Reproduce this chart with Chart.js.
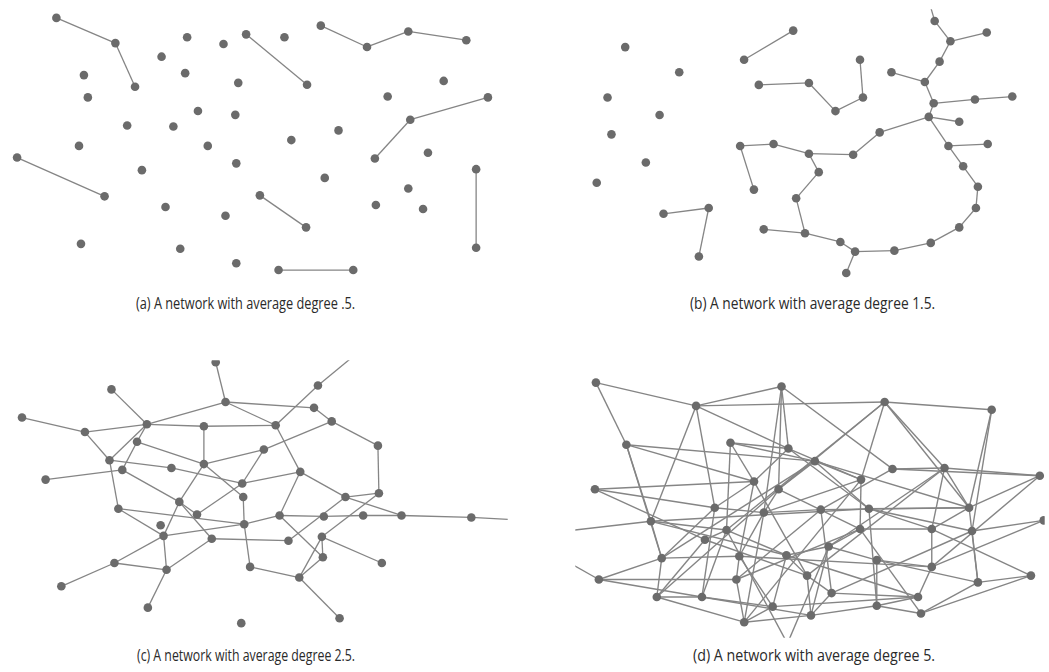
<!DOCTYPE html>
<html>
<head>
<meta charset="utf-8">
<script src="https://cdn.jsdelivr.net/npm/chart.js@4/dist/chart.umd.min.js"></script>
<style>
  html, body { margin: 0; padding: 0; background: #ffffff; }
  body { width: 1049px; height: 672px; position: relative; overflow: hidden; }
  .panel { position: absolute; }
  .cap { position: absolute; font-family: "Open Sans", "Noto Sans", sans-serif;
         font-size: 16px; color: #2a2a2a; white-space: nowrap; line-height: 1; transform-origin: 0 0; }
</style>
</head>
<body>
<div id="wrap"></div>
<script>
// ---- Data: node positions (in picture units) and edges (index pairs) ----
const nodesA = [[53,14],[113,40],[133,85],[186,34],[223,41],[246,31],[160,54],[184,71],[238,81],[81,73],
  [85,96],[197,110],[235,114],[125,125],[172,126],[76,146],[207,146],[236,164],[13,158],[140,171],
  [102,198],[260,197],[164,209],[225,218],[78,247],[179,252],[236,267],[322,22],[285,34],[369,44],
  [411,28],[470,37],[308,83],[447,79],[390,95],[492,96],[413,119],[340,130],[292,140],[431,153],
  [377,159],[480,170],[326,179],[411,190],[378,207],[426,211],[307,230],[480,251],[279,274],[355,274]];
const edgesA = [[0,1],[1,2],[18,20],[5,32],[27,29],[29,30],[30,31],[35,36],[36,40],[41,47],[21,46],[48,49]];

const nodesB = [[622,44],[677,70],[604,96],[657,114],[608,134],[643,163],[593,184],[793,27],[743,57],[758,83],
  [739,146],[773,144],[753,191],[796,200],[763,232],[661,216],[707,210],[697,260],[937,17],[953,38],
  [990,29],[942,59],[893,70],[927,80],[861,57],[864,96],[836,110],[809,81],[936,102],[978,98],
  [1016,95],[931,116],[962,121],[881,132],[951,146],[991,144],[809,154],[854,155],[819,173],[966,167],
  [981,188],[979,210],[962,230],[805,236],[841,245],[933,246],[856,255],[896,254],[847,277],[931,-4]];
const edgesB = [[7,8],[9,27],[27,26],[26,25],[25,24],[10,11],[10,12],[11,36],[36,37],[36,38],[38,13],[13,43],
  [14,43],[43,44],[44,46],[46,48],[46,47],[47,45],[45,42],[42,41],[41,40],[40,39],[39,34],[34,35],[34,31],
  [31,32],[31,33],[33,37],[31,28],[28,29],[29,30],[28,23],[23,22],[23,21],[21,19],[19,20],[19,18],[18,49],
  [15,16],[16,17]];

const nodesC = [[215,358],[109,386],[225,399],[18,415],[82,430],[145,422],[203,424],[135,440],[107,459],[120,469],
  [170,467],[203,463],[42,479],[242,483],[243,497],[178,502],[196,515],[116,509],[159,526],[162,537],
  [244,525],[211,540],[112,565],[165,572],[250,569],[58,589],[146,611],[241,627],[319,382],[315,405],
  [276,423],[333,419],[380,444],[264,448],[301,471],[347,497],[381,493],[280,516],[325,517],[365,516],
  [404,516],[475,518],[289,542],[323,538],[324,559],[384,565],[300,580],[341,622],[362,346],[530,521]];
const edgesC = [[0,2],[1,5],[3,4],[4,5],[4,8],[5,2],[5,6],[5,8],[5,7],[7,9],[7,11],[6,11],[6,30],[2,29],[2,30],
  [11,33],[11,15],[11,14],[8,10],[8,17],[10,13],[13,34],[12,9],[9,15],[15,19],[15,21],[16,13],[16,15],[14,20],
  [20,24],[17,19],[17,20],[19,20],[19,22],[19,23],[22,23],[22,25],[23,26],[21,23],[21,42],[28,48],[28,30],
  [29,31],[31,32],[33,31],[33,13],[30,34],[34,35],[34,37],[35,40],[35,36],[32,36],[36,43],[35,42],[37,20],
  [37,38],[38,39],[39,40],[40,41],[41,49],[37,44],[43,44],[43,45],[43,46],[44,46],[46,24],[46,47]];

const nodesD = [[592,379],[694,403],[781,383],[623,443],[729,441],[788,447],[591,489],[753,481],[778,489],[713,508],
  [886,399],[995,407],[815,460],[894,468],[862,479],[947,467],[1044,475],[972,508],[870,509],[821,510],
  [648,522],[763,513],[725,531],[703,541],[659,560],[738,558],[786,557],[595,582],[735,582],[807,578],
  [654,600],[700,600],[772,610],[743,626],[861,530],[934,530],[975,532],[1048,521],[829,548],[878,562],
  [934,569],[981,585],[1035,578],[832,596],[920,600],[878,609],[923,617],[811,619],[545,534],[548,555],[787,648]];
const edgesD = [[0,1],[0,3],[1,2],[1,10],[1,5],[1,20],[1,9],[2,5],[2,13],[2,21],[2,8],[3,12],[3,7],[3,20],[3,24],
  [4,5],[4,12],[4,22],[4,7],[5,7],[5,14],[5,18],[6,7],[6,9],[6,23],[7,9],[7,25],[7,29],[8,12],[8,21],[8,30],
  [8,34],[9,21],[9,24],[9,31],[10,11],[10,14],[10,15],[10,17],[10,8],[10,22],[11,17],[11,36],[12,14],[12,17],
  [12,18],[12,24],[13,15],[13,19],[13,16],[14,21],[14,34],[14,33],[15,16],[15,17],[15,35],[15,29],[15,38],
  [16,17],[16,40],[17,35],[17,41],[17,19],[17,18],[18,35],[18,36],[18,45],[18,20],[19,21],[19,43],[19,28],
  [20,48],[20,24],[20,22],[20,26],[21,33],[21,25],[22,23],[22,26],[22,31],[23,30],[23,29],[24,27],[24,30],
  [24,25],[25,28],[25,32],[25,40],[26,29],[26,32],[26,38],[26,44],[27,49],[27,31],[27,28],[28,33],[28,34],
  [29,43],[29,47],[30,31],[30,33],[31,47],[31,32],[32,33],[32,44],[33,47],[34,35],[34,38],[34,46],[35,40],
  [35,42],[36,37],[36,41],[36,43],[37,40],[38,39],[38,47],[39,40],[39,45],[39,41],[40,44],[41,42],[41,46],
  [42,46],[43,44],[43,47],[44,45],[45,46],[45,47],[50,22],[50,38]];

const phantomA = [], phantomB = [49], phantomC = [48,49], phantomD = [48,49,50];

const captions = [
  "(a) A network with average degree .5.",
  "(b) A network with average degree 1.5.",
  "(c) A network with average degree 2.5.",
  "(d) A network with average degree 5."
];

// ---- Layout (panel boxes in picture units, caption anchors: left, top, width) ----
const panels = [
  { nodes: nodesA, edges: edgesA, hidden: phantomA, box: [0, 0, 505, 285], cap: [136, 295, 219] },
  { nodes: nodesB, edges: edgesB, hidden: phantomB, box: [560, 5, 1049, 285], cap: [690, 295, 245] },
  { nodes: nodesC, edges: edgesC, hidden: phantomC, box: [0, 356, 512, 642], cap: [137, 647, 218] },
  { nodes: nodesD, edges: edgesD, hidden: phantomD, box: [571, 356, 1049, 642], cap: [693, 647, 242] }
];

const NODE_COLOR = '#6b6b6b';
const EDGE_COLOR = '#858585';

const wrap = document.getElementById('wrap');
const mctx = document.createElement('canvas').getContext('2d');

panels.forEach((p, k) => {
  const [x0, y0, x1, y1] = p.box;
  const div = document.createElement('div');
  div.className = 'panel';
  div.style.left = x0 + 'px'; div.style.top = y0 + 'px';
  div.style.width = (x1 - x0) + 'px'; div.style.height = (y1 - y0) + 'px';
  const cv = document.createElement('canvas');
  cv.width = x1 - x0; cv.height = y1 - y0;
  div.appendChild(cv);
  wrap.appendChild(div);

  const datasets = [];
  datasets.push({
    label: 'nodes',
    data: p.nodes.filter((_, i) => !p.hidden.includes(i)).map(([x, y]) => ({ x, y })),
    showLine: false,
    pointRadius: 4.3,
    pointBackgroundColor: NODE_COLOR,
    pointBorderWidth: 0,
    order: 0
  });
  p.edges.forEach(([a, b]) => {
    datasets.push({
      data: [{ x: p.nodes[a][0], y: p.nodes[a][1] }, { x: p.nodes[b][0], y: p.nodes[b][1] }],
      showLine: true,
      borderColor: EDGE_COLOR,
      borderWidth: k === 3 ? 1.4 : 1.3,
      pointRadius: 0,
      order: 1
    });
  });

  new Chart(cv, {
    type: 'scatter',
    data: { datasets },
    options: {
      responsive: false,
      animation: false,
      events: [],
      layout: { padding: 0 },
      plugins: { legend: { display: false }, tooltip: { enabled: false } },
      scales: {
        x: { type: 'linear', min: x0, max: x1, display: false },
        y: { type: 'linear', min: y0, max: y1, reverse: true, display: false }
      }
    }
  });

  const cap = document.createElement('div');
  cap.className = 'cap';
  cap.textContent = captions[k];
  cap.style.left = p.cap[0] + 'px';
  cap.style.top = p.cap[1] + 'px';
  mctx.font = '16px "Open Sans"';
  const w = mctx.measureText(captions[k]).width;
  cap.style.transform = 'scaleX(' + (p.cap[2] / w).toFixed(3) + ')';
  wrap.appendChild(cap);
});
</script>
</body>
</html>
